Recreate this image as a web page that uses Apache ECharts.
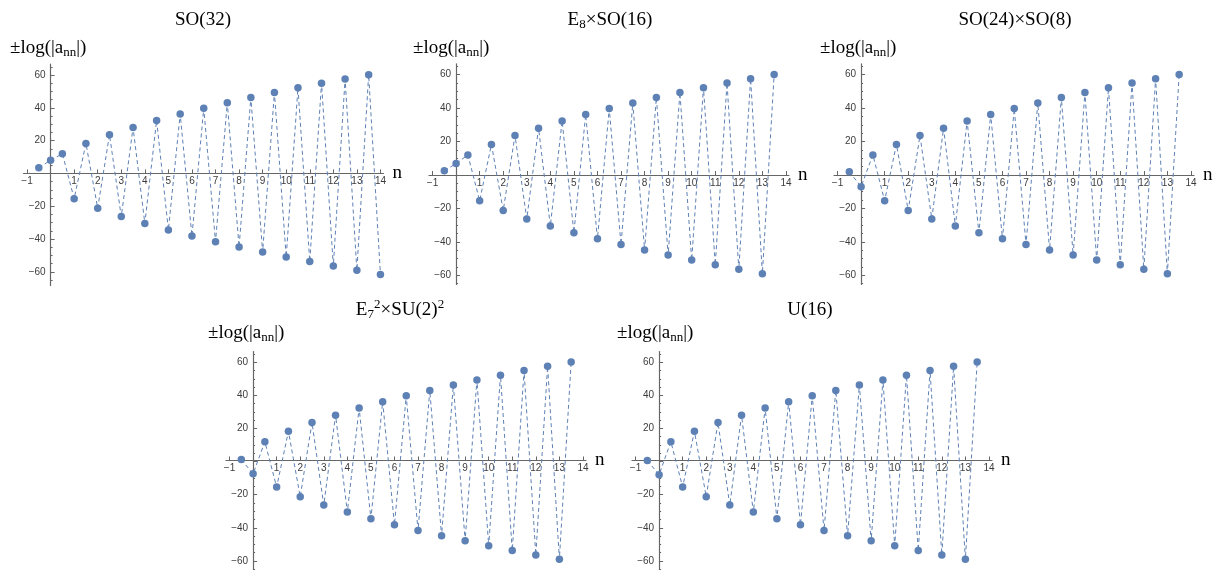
<!DOCTYPE html>
<html>
<head>
<meta charset="utf-8">
<script src="https://cdn.jsdelivr.net/npm/echarts@6/dist/echarts.min.js"></script>
<style>
  html, body { margin: 0; padding: 0; background: #ffffff; }
  #chart { width: 1215px; height: 570px; }
</style>
</head>
<body>
<div id="chart"></div>
<script>
// n values (half-integer steps)
const nValues = [-0.5, 0, 0.5, 1, 1.5, 2, 2.5, 3, 3.5, 4, 4.5, 5, 5.5, 6, 6.5, 7,
  7.5, 8, 8.5, 9, 9.5, 10, 10.5, 11, 11.5, 12, 12.5, 13, 13.5, 14];

// ±log(|a_nn|) for each gauge group
const so32 = [3.5, 8, 12, -15.4, 18.3, -21.2, 23.6, -26.3, 28, -30.5, 32.3, -34.5, 36.2, -38.2,
  39.7, -41.6, 43, -44.8, 46.3, -47.9, 49.3, -50.9, 52.2, -53.7, 55, -56.4, 57.6, -59, 60.1, -61.6];
const e8so16 = [2.6, 6.8, 12, -15.4, 18.3, -21.2, 23.6, -26.3, 28, -30.5, 32.3, -34.5, 36.2, -38.2,
  39.7, -41.6, 43, -44.8, 46.3, -47.9, 49.3, -50.9, 52.2, -53.7, 55, -56.4, 57.6, -59, 60.1];
const so24so8 = [2, -7, 12, -15.4, 18.3, -21.2, 23.6, -26.3, 28, -30.5, 32.3, -34.5, 36.2, -38.2,
  39.7, -41.6, 43, -44.8, 46.3, -47.9, 49.3, -50.9, 52.2, -53.7, 55, -56.4, 57.6, -59, 60.1];
const e7su2 = [1.2, -7.4, 12, -15.4, 18.3, -21.2, 23.6, -26.3, 28, -30.5, 32.3, -34.5, 36.2, -38.2,
  39.7, -41.6, 43, -44.8, 46.3, -47.9, 49.3, -50.9, 52.2, -53.7, 55, -56.4, 57.6, -59, 60.1];
const u16 = [0.6, -7.9, 12, -15.4, 18.3, -21.2, 23.6, -26.3, 28, -30.5, 32.3, -34.5, 36.2, -38.2,
  39.7, -41.6, 43, -44.8, 46.3, -47.9, 49.3, -50.9, 52.2, -53.7, 55, -56.4, 57.6, -59, 60.1];

// tick positions and labels
const xTicks = [-1, 0, 1, 2, 3, 4, 5, 6, 7, 8, 9, 10, 11, 12, 13, 14];
const xLabels = [-1, 1, 2, 3, 4, 5, 6, 7, 8, 9, 10, 11, 12, 13, 14];
const yMajorTicks = [-60, -40, -20, 0, 20, 40, 60];
const yLabels = [-60, -40, -20, 20, 40, 60];
const yMinorTicks = [-65, -55, -50, -45, -35, -30, -25, -15, -10, -5,
  5, 10, 15, 25, 30, 35, 45, 50, 55, 65];

const panelTitles = [
  'SO(32)',
  'E{sub|8}×SO(16)',
  'SO(24)×SO(8)',
  'E{sub|7}{sup|2}×SU(2){sup|2}',
  'U(16)'
];
const panelData = [so32, e8so16, so24so8, e7su2, u16];

// panel layout: plot rectangle, axis ranges, title and y-label anchors
const panels = [
  { left: 23.5, top: 64,    w: 360, h: 221.6, ymin: -68.4, ymax: 66.7, tx: 203,  ty: 20,  lx: 10,  ly: 48 },
  { left: 429,  top: 63.8,  w: 360, h: 220.7, ymin: -65.5, ymax: 66.5, tx: 610,  ty: 20,  lx: 413, ly: 48 },
  { left: 834,  top: 63.8,  w: 360, h: 220.7, ymin: -65.5, ymax: 66.5, tx: 1015, ty: 20,  lx: 820, ly: 48 },
  { left: 226,  top: 351.5, w: 360, h: 220.7, ymin: -65.5, ymax: 66.5, tx: 400,  ty: 310, lx: 208, ly: 333 },
  { left: 632,  top: 351.5, w: 360, h: 220.7, ymin: -65.5, ymax: 66.5, tx: 810,  ty: 310, lx: 617, ly: 333 }
];
const XMIN = -1.15, XMAX = 14.13;

const LINE_COLOR = '#5e81b5';
const AXIS_COLOR = '#666666';
const LABEL_COLOR = '#3c3c3c';
const SERIF = '"Liberation Serif", "DejaVu Serif", serif';
const SANS = '"Liberation Sans", Arial, sans-serif';

const fmt = v => (v < 0 ? '\u2212' + (-v) : String(v));

const grid = [], xAxis = [], yAxis = [], series = [], graphic = [];

const scriptRich = {
  sub: { fontFamily: SERIF, fontSize: 13, fill: '#000', verticalAlign: 'bottom', lineHeight: 23 },
  sup: { fontFamily: SERIF, fontSize: 13, fill: '#000', verticalAlign: 'top', lineHeight: 23 }
};

panels.forEach((p, i) => {
  const gMain = grid.length;
  grid.push({ left: p.left, top: p.top, width: p.w, height: p.h });
  grid.push({ left: p.left, top: p.top, width: p.w, height: p.h });

  // the axes cross at the origin: shift them from the plot edges to the zero lines
  const xOffset = -p.h * (0 - p.ymin) / (p.ymax - p.ymin);
  const yOffset = -p.w * (0 - XMIN) / (XMAX - XMIN);

  xAxis.push({
    type: 'value', gridIndex: gMain, min: XMIN, max: XMAX, position: 'bottom', offset: xOffset,
    name: 'n', nameLocation: 'end', nameGap: 9,
    nameTextStyle: { fontFamily: SERIF, fontSize: 19, color: '#000', verticalAlign: 'middle' },
    axisLine: { show: true, onZero: false, lineStyle: { color: AXIS_COLOR, width: 1.2 } },
    axisTick: { show: true, inside: true, length: 4, customValues: xTicks, lineStyle: { color: AXIS_COLOR } },
    axisLabel: { show: true, customValues: xLabels, formatter: fmt, margin: 3,
      fontFamily: SANS, fontSize: 10, color: LABEL_COLOR },
    splitLine: { show: false }, minorTick: { show: false }
  });
  yAxis.push({
    type: 'value', gridIndex: gMain, position: 'left', offset: yOffset, min: p.ymin, max: p.ymax,
    axisLine: { show: true, onZero: false, lineStyle: { color: AXIS_COLOR, width: 1.2 } },
    axisTick: { show: true, inside: true, length: 4, customValues: yMajorTicks, lineStyle: { color: AXIS_COLOR } },
    axisLabel: { show: true, customValues: yLabels, formatter: fmt, margin: 5,
      fontFamily: SANS, fontSize: 10, color: LABEL_COLOR },
    splitLine: { show: false }
  });

  // overlay axes carrying the minor y ticks
  xAxis.push({
    type: 'value', gridIndex: gMain + 1, min: XMIN, max: XMAX,
    axisLine: { show: false, onZero: false }, axisTick: { show: false },
    axisLabel: { show: false }, splitLine: { show: false }
  });
  yAxis.push({
    type: 'value', gridIndex: gMain + 1, position: 'left', offset: yOffset, min: p.ymin, max: p.ymax,
    axisLine: { show: false, onZero: false },
    axisTick: { show: true, inside: true, length: 2, customValues: yMinorTicks, lineStyle: { color: AXIS_COLOR } },
    axisLabel: { show: false }, splitLine: { show: false }
  });

  const vals = panelData[i];
  series.push({
    type: 'line',
    xAxisIndex: gMain, yAxisIndex: gMain,
    data: vals.map((v, k) => [nValues[k], v]),
    symbol: 'circle', symbolSize: 7.5,
    itemStyle: { color: LINE_COLOR },
    lineStyle: { color: LINE_COLOR, width: 1, type: [4, 3] },
    clip: false, silent: true
  });

  graphic.push({
    type: 'text', x: p.tx, y: p.ty,
    style: {
      text: panelTitles[i], rich: scriptRich,
      fontFamily: SERIF, fontSize: 19, fill: '#000',
      align: 'center', verticalAlign: 'middle'
    }
  });
  graphic.push({
    type: 'text', x: p.lx, y: p.ly,
    style: {
      text: '±log(|a{sub|nn}|)', rich: scriptRich,
      fontFamily: SERIF, fontSize: 19, fill: '#000',
      align: 'left', verticalAlign: 'middle'
    }
  });
});

const chart = echarts.init(document.getElementById('chart'), null, { renderer: 'canvas' });
chart.setOption({
  animation: false,
  backgroundColor: '#ffffff',
  grid, xAxis, yAxis, series, graphic
});
</script>
</body>
</html>
